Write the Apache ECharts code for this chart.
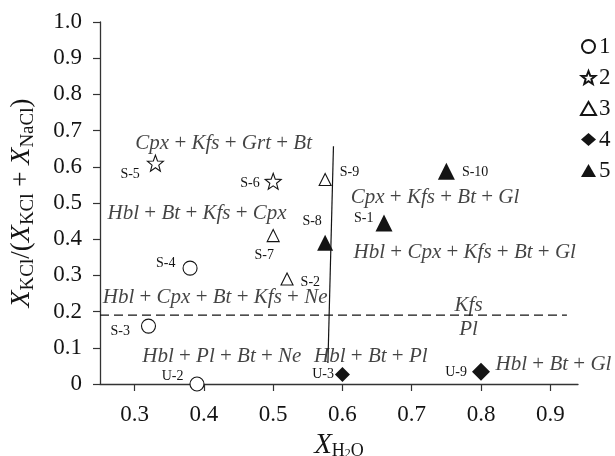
<!DOCTYPE html>
<html>
<head>
<meta charset="utf-8">
<script src="https://cdn.jsdelivr.net/npm/echarts@6/dist/echarts.min.js"></script>
<style>
  html, body { margin: 0; padding: 0; background: #fff; }
  #chart { width: 615px; height: 456px; }
</style>
</head>
<body>
<div id="chart"></div>
<script>
// Fluid composition of the runs: [sample, X_H2O, X_KCl/(X_KCl + X_NaCl)]
const group1 = [['S-4', 0.38, 0.32], ['S-3', 0.32, 0.16], ['U-2', 0.39, 0.0]];
const group2 = [['S-5', 0.33, 0.61], ['S-6', 0.50, 0.56]];
const group3 = [['S-9', 0.575, 0.565], ['S-7', 0.50, 0.41], ['S-2', 0.52, 0.29]];
const group4 = [['U-3', 0.60, 0.026], ['U-9', 0.80, 0.034]];
const group5 = [['S-10', 0.75, 0.588], ['S-1', 0.66, 0.445], ['S-8', 0.575, 0.39]];
const groupNames = ['1', '2', '3', '4', '5'];

// Axis ticks
const xTicks = [0.3, 0.4, 0.5, 0.6, 0.7, 0.8, 0.9];
const yTicks = [0, 0.1, 0.2, 0.3, 0.4, 0.5, 0.6, 0.7, 0.8, 0.9, 1.0];

// Phase boundaries
const meltBoundary = [[0.587, 0.657], [0.579, 0.058]];
const kfsPlBoundary = [[0.25, 0.19], [0.924, 0.19]];

// Phase assemblages of the fields
const assemblages = [
  ['Cpx', 'Kfs', 'Grt', 'Bt'],
  ['Hbl', 'Bt', 'Kfs', 'Cpx'],
  ['Cpx', 'Kfs', 'Bt', 'Gl'],
  ['Hbl', 'Cpx', 'Kfs', 'Bt', 'Gl'],
  ['Hbl', 'Cpx', 'Bt', 'Kfs', 'Ne'],
  ['Kfs'],
  ['Pl'],
  ['Hbl', 'Pl', 'Bt', 'Ne'],
  ['Hbl', 'Bt', 'Pl'],
  ['Hbl', 'Bt', 'Gl']
];

// ---- layout & style ----
const SERIF = '"Liberation Serif", "Times New Roman", Times, serif';
const INK = '#141414';
const FIELD_NUDGE = 1; // canvas middle baseline sits a little high for this face

// where each field label sits (data coordinates of its left/centre anchor)
const assemblageAnchors = [
  { at: [0.301, 0.668], align: 'left' },
  { at: [0.261, 0.475], align: 'left' },
  { at: [0.612, 0.517], align: 'left' },
  { at: [0.616, 0.366], align: 'left' },
  { at: [0.254, 0.241], align: 'left' },
  { at: [0.782, 0.221], align: 'center' },
  { at: [0.782, 0.154], align: 'center' },
  { at: [0.311, 0.080], align: 'left' },
  { at: [0.559, 0.080], align: 'left' },
  { at: [0.821, 0.057], align: 'left' }
];

// sample label placement relative to its marker
const sampleLabelPlacement = {
  'S-5': ['left', [-2, 11]],
  'S-6': ['left', [0, 2]],
  'S-9': ['right', [3, -7]],
  'S-8': ['top', [-13, -1]],
  'S-1': ['left', [3, -5]],
  'S-10': ['right', [2, 1]],
  'S-7': ['bottom', [-9, 1]],
  'S-4': ['left', [-2, -5]],
  'S-2': ['right', [2, 3]],
  'S-3': ['left', [-6, 5]],
  'U-2': ['left', [-1, -8]],
  'U-3': ['left', [4, 0]],
  'U-9': ['left', [0, 1]]
};

const STAR = 'path://M0,-50L12.3,-17L47.6,-15.5L20,6.5L29.4,40.5L0,21L-29.4,40.5L-20,6.5L-47.6,-15.5L-12.3,-17Z';
const groupStyles = [
  { symbol: 'circle', size: 14, hollow: true },
  { symbol: STAR, size: 16, hollow: true },
  { symbol: 'triangle', size: 12, hollow: true },
  { symbol: 'diamond', size: 15, hollow: false },
  { symbol: 'triangle', size: 17, hollow: false }
];
const sizeOverride = { 'U-9': 18, 'S-8': 16 };

function sampleSeries(rows, idx) {
  const st = groupStyles[idx];
  return {
    name: groupNames[idx],
    type: 'scatter',
    symbol: st.symbol,
    symbolSize: (v, p) => sizeOverride[p.name] || st.size,
    itemStyle: st.hollow
      ? { color: '#fff', borderColor: INK, borderWidth: 1.1, opacity: 1 }
      : { color: INK, borderColor: INK, borderWidth: 0, opacity: 1 },
    z: 5,
    data: rows.map(r => {
      const pl = sampleLabelPlacement[r[0]];
      return {
        name: r[0],
        value: [r[1], r[2]],
        label: { show: true, position: pl[0], offset: pl[1], distance: 5 }
      };
    }),
    label: {
      show: true,
      formatter: p => p.name,
      fontFamily: SERIF,
      fontSize: 14,
      color: INK
    }
  };
}

function phaseText(list) {
  return list.map(p => '{i|' + p + '}').join(' + ');
}

const assemblageSeries = {
  type: 'scatter',
  symbolSize: 0,
  silent: true,
  z: 4,
  data: assemblages.map((list, i) => ({
    value: assemblageAnchors[i].at,
    label: {
      show: true,
      position: 'inside',
      offset: [0, FIELD_NUDGE],
      align: assemblageAnchors[i].align,
      verticalAlign: 'middle',
      formatter: phaseText(list),
      fontFamily: SERIF,
      fontSize: 21,
      color: INK,
      rich: { i: { fontFamily: SERIF, fontStyle: 'italic', fontSize: 21, color: INK } }
    }
  }))
};

function boundarySeries(points, dashed) {
  return {
    type: 'line',
    data: points,
    symbol: 'none',
    silent: true,
    z: 3,
    lineStyle: { color: INK, width: 1.2, type: dashed ? [9, 5] : 'solid' }
  };
}

const chart = echarts.init(document.getElementById('chart'), null, { renderer: 'canvas' });
chart.setOption({
  animation: false,
  backgroundColor: '#fff',
  grid: { left: 100, right: 37, top: 22, bottom: 72, containLabel: false, outerBoundsMode: 'none' },
  legend: {
    orient: 'vertical',
    left: 575,
    top: 30,
    itemWidth: 15,
    itemHeight: 13,
    itemGap: 8,
    data: groupNames,
    textStyle: { fontFamily: SERIF, fontSize: 23, color: INK, padding: [0, 0, 0, -2] }
  },
  xAxis: {
    type: 'value',
    min: 0.25,
    max: 0.94,
    splitLine: { show: false },
    axisLine: { lineStyle: { color: '#333', width: 1.3 } },
    axisTick: { show: true, customValues: xTicks, length: 7, inside: false, lineStyle: { color: '#333', width: 1.2 } },
    axisLabel: {
      customValues: xTicks,
      formatter: v => v.toFixed(1),
      fontFamily: SERIF, fontSize: 23, color: INK, margin: 19
    },
    name: '{x|X}{s|H}{ss|2}{s|O}',
    nameLocation: 'middle',
    nameGap: 35,
    nameTextStyle: {
      rich: {
        x: { fontFamily: SERIF, fontStyle: 'italic', fontSize: 29, color: INK },
        s: { fontFamily: SERIF, fontSize: 18, color: INK, padding: [11, 0, 0, 0] },
        ss: { fontFamily: SERIF, fontSize: 12, color: INK, padding: [17, 0, 0, 0] }
      }
    }
  },
  yAxis: {
    type: 'value',
    min: 0,
    max: 1,
    interval: 0.1,
    splitLine: { show: false },
    axisLine: { show: true, lineStyle: { color: '#333', width: 1.3 } },
    axisTick: { show: true, length: 7, lineStyle: { color: '#333', width: 1.2 } },
    axisLabel: {
      customValues: yTicks,
      formatter: v => (v === 0 ? '0' : v.toFixed(1)),
      fontFamily: SERIF, fontSize: 23, color: INK, margin: 18
    },
    name: '{x|X}{s|KCl}{p|/(}{x|X}{s|KCl}{p| + }{x|X}{s|NaCl}{p|)}',
    nameLocation: 'middle',
    nameRotate: 90,
    nameGap: 62,
    nameTextStyle: {
      rich: {
        x: { fontFamily: SERIF, fontStyle: 'italic', fontSize: 28, color: INK },
        p: { fontFamily: SERIF, fontSize: 27, color: INK },
        s: { fontFamily: SERIF, fontSize: 19, color: INK, padding: [13, 0, 0, 0] }
      }
    }
  },
  series: [
    boundarySeries(kfsPlBoundary, true),
    boundarySeries(meltBoundary, false),
    assemblageSeries,
    sampleSeries(group1, 0),
    sampleSeries(group2, 1),
    sampleSeries(group3, 2),
    sampleSeries(group4, 3),
    sampleSeries(group5, 4)
  ]
});
</script>
</body>
</html>
